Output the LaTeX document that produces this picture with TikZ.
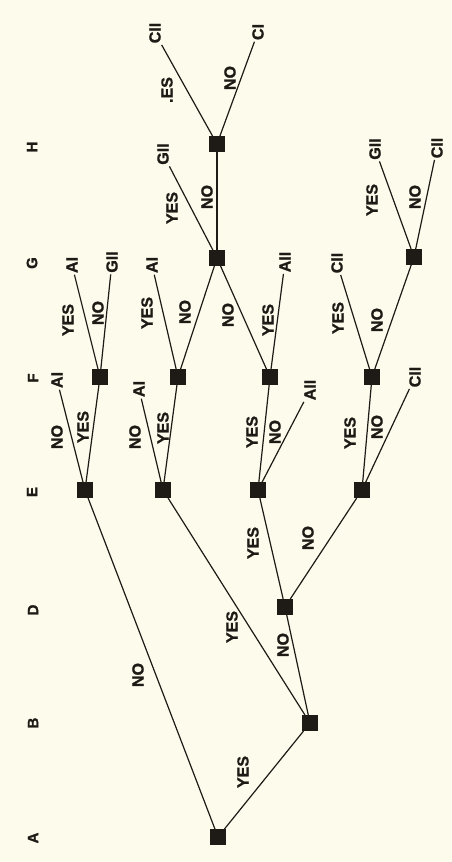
\documentclass[tikz,border=0pt]{standalone}
\usepackage{fontspec}
\setmainfont{Liberation Sans}[BoldFeatures={FakeBold=1.2}]
\definecolor{paper}{RGB}{252,251,236}
\definecolor{ink}{RGB}{30,26,22}
\begin{document}
\begin{tikzpicture}[x=1pt,y=-1pt,
  box/.style={fill=ink, minimum size=16pt, inner sep=0pt, outer sep=0pt},
  txt/.style={rotate=90, text=ink, font=\bfseries\fontsize{16}{16}\selectfont, inner sep=1.5pt},
  lab/.style={txt},
  col/.style={txt, font=\bfseries\fontsize{15}{15}\selectfont},
  ln/.style={line width=1.2pt, draw=ink}]
\fill[paper] (0,0) rectangle (452,862);
\useasboundingbox (0,0) rectangle (452,862);
% column letters
\node[col] (cA) at (33,838) {A};
\node[col] (cB) at (33,723) {B};
\node[col] (cD) at (33,610) {D};
\node[col] (cE) at (32,492) {E};
\node[col] (cF) at (33,378) {F};
\node[col] (cG) at (32,263) {G};
\node[col] (cH) at (32,147) {H};
% decision nodes
\node[box] (A) at (218,837) {};
\node[box] (B) at (310,723) {};
\node[box] (D) at (285,607) {};
\node[box] (E1) at (85,490) {};
\node[box] (E2) at (163,490) {};
\node[box] (E3) at (258,490) {};
\node[box] (E4) at (362,490) {};
\node[box] (F1) at (100,377) {};
\node[box] (F2) at (178,377) {};
\node[box] (F3) at (270,377) {};
\node[box] (F4) at (372,377) {};
\node[box] (G1) at (217,258) {};
\node[box] (G2) at (414,257) {};
\node[box] (H1) at (217,144) {};
% leaves
\node[txt] (l1) at (57,380) {AI};
\node[txt] (l2) at (139,389) {AI};
\node[txt] (l3) at (310,390) {AII};
\node[txt] (l4) at (415,377) {CII};
\node[txt] (l5) at (72,265) {AI};
\node[txt] (l6) at (112,262) {GII};
\node[txt] (l7) at (152,265) {AI};
\node[txt] (l8) at (285,262) {AII};
\node[txt] (l9) at (337,263) {CII};
\node[txt] (l10) at (163,154) {GII};
\node[txt] (l11) at (375,149) {GII};
\node[txt] (l12) at (437,148) {CII};
\node[txt] (l13) at (155,33) {CII};
\node[txt] (l14) at (258,32) {CI};
% connectors
\draw[ln] (A) -- (E1);
\draw[ln] (A) -- (B);
\draw[ln] (B) -- (E2);
\draw[ln] (B) -- (D);
\draw[ln] (D) -- (E3);
\draw[ln] (D) -- (E4);
\draw[ln] (E1) -- (l1);
\draw[ln] (E1) -- (F1);
\draw[ln] (E2) -- (l2);
\draw[ln] (E2) -- (F2);
\draw[ln] (E3) -- (F3);
\draw[ln] (E3) -- (l3);
\draw[ln] (E4) -- (F4);
\draw[ln] (E4) -- (l4);
\draw[ln] (F1) -- (l5);
\draw[ln] (F1) -- (l6);
\draw[ln] (F2) -- (l7);
\draw[ln] (F2) -- (G1);
\draw[ln] (F3) -- (G1);
\draw[ln] (F3) -- (l8);
\draw[ln] (F4) -- (l9);
\draw[ln] (F4) -- (G2);
\draw[ln] (G1) -- (l10);
\draw[ln] (G1) -- (H1);
\draw[ln] (G2) -- (l11);
\draw[ln] (G2) -- (l12);
\draw[ln] (H1) -- (l13);
\draw[ln] (H1) -- (l14);
% branch labels
\node[lab] (t1) at (138,675) {NO};
\node[lab] (t2) at (243,772) {YES};
\node[lab] (t3) at (232,627) {YES};
\node[lab] (t4) at (283,645) {NO};
\node[lab] (t5) at (253,543) {YES};
\node[lab] (t6) at (308,538) {NO};
\node[lab] (t7) at (57,437) {NO};
\node[lab] (t8) at (83,427) {YES};
\node[lab] (t9) at (135,437) {NO};
\node[lab] (t10) at (163,428) {YES};
\node[lab] (t11) at (252,432) {YES};
\node[lab] (t12) at (275,432) {NO};
\node[lab] (t13) at (350,433) {YES};
\node[lab] (t14) at (377,427) {NO};
\node[lab] (t15) at (68,320) {YES};
\node[lab] (t16) at (98,313) {NO};
\node[lab] (t17) at (147,313) {YES};
\node[lab] (t18) at (185,312) {NO};
\node[lab] (t19) at (228,315) {NO};
\node[lab] (t20) at (268,320) {YES};
\node[lab] (t21) at (338,318) {YES};
\node[lab] (t22) at (377,320) {NO};
\node[lab] (t23) at (172,208) {YES};
\node[lab] (t24) at (207,197) {NO};
\node[lab] (t25) at (372,200) {YES};
\node[lab] (t26) at (415,197) {NO};
\node[lab] (t27) at (167,90) {.ES};
\node[lab] (t28) at (230,78) {NO};
\end{tikzpicture}
\end{document}
